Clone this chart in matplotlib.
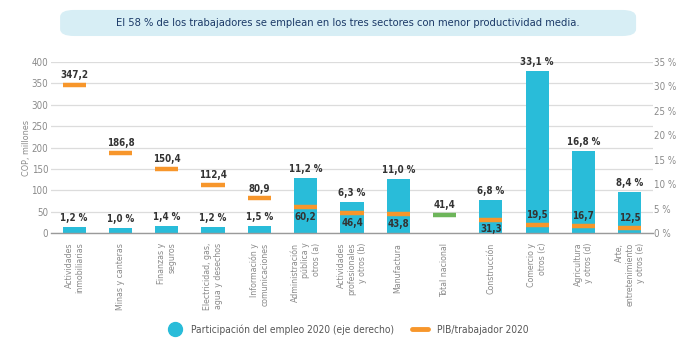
import numpy as np
import matplotlib
matplotlib.use("Agg")
from matplotlib import pyplot as plt
from matplotlib.lines import Line2D
from matplotlib.patches import FancyBboxPatch

sectors = [
    "Actividades\ninmobiliarias", "Minas y canteras", "Finanzas y\nseguros",
    "Electricidad, gas,\nagua y desechos", "Información y\ncomunicaciones",
    "Administración\npública y\notros (a)", "Actividades\nprofesionales\ny otros (b)",
    "Manufactura", "Total nacional", "Construcción", "Comercio y\notros (c)",
    "Agricultura\ny otros (d)", "Arte,\nentretenimiento\ny otros (e)",
]
empleo = [1.2, 1.0, 1.4, 1.2, 1.5, 11.2, 6.3, 11.0, None, 6.8, 33.1, 16.8, 8.4]
pib = [347.2, 186.8, 150.4, 112.4, 80.9, 60.2, 46.4, 43.8, 41.4, 31.3, 19.5, 16.7, 12.5]
# where the PIB value is written relative to its marker
pib_label_pos = ["above"] * 5 + ["below"] * 3 + ["above", "below"] + ["above"] * 3
left_ticks = [0, 50, 100, 150, 200, 250, 300, 350, 400]
right_ticks = [0, 5, 10, 15, 20, 25, 30, 35]

CYAN = "#29bcd9"
ORANGE = "#f7962b"
GREEN = "#6db55a"
GRAY = "#8a8a8a"
DARK = "#333333"

plt.rcParams["font.family"] = "DejaVu Sans"
plt.rcParams["font.stretch"] = "condensed"

fig = plt.figure(figsize=(6.99, 3.43), dpi=100)
ax = fig.add_axes([0.073, 0.3207, 0.861, 0.4985])
ax2 = ax.twinx()

x = np.arange(len(sectors))
w = 0.5

for i, v in enumerate(empleo):
    if v is None:
        continue
    ax2.bar(x[i], v, width=w, color=CYAN, zorder=2)
    ax2.annotate(f"{v:.1f} %".replace(".", ","), (x[i], v), xytext=(0, 3),
                 textcoords="offset points", ha="center", va="bottom",
                 fontsize=7, fontweight="bold", color=DARK)

# PIB markers live on the left scale but are drawn over the bars
for i, v in enumerate(pib):
    col = GREEN if empleo[i] is None else ORANGE
    ax2.hlines(v, x[i] - w / 2, x[i] + w / 2, color=col, lw=3.2, zorder=3,
               transform=ax.transData)
    txt = f"{v:.1f}".replace(".", ",")
    if pib_label_pos[i] == "above":
        ax2.annotate(txt, (x[i], v), xycoords=ax.transData, xytext=(0, 3.5),
                     textcoords="offset points", ha="center", va="bottom",
                     fontsize=7, fontweight="bold", color=DARK, zorder=4)
    else:
        ax2.annotate(txt, (x[i], v), xycoords=ax.transData, xytext=(0, -3.5),
                     textcoords="offset points", ha="center", va="top",
                     fontsize=7, fontweight="bold", color=DARK, zorder=4)

ax.set_xlim(-0.5, len(sectors) - 0.5)
ax.set_ylim(0, 400)
ax2.set_ylim(0, 35)
ax.set_yticks(left_ticks)
ax2.set_yticks(right_ticks)
ax2.set_yticklabels([f"{t} %" for t in right_ticks])
ax.grid(axis="y", color="#dcdcdc", lw=0.9)
ax.set_axisbelow(True)

ax.set_xticks(x)
ax.set_xticklabels(sectors, rotation=90, multialignment="right", fontsize=6.3, color=GRAY)
ax.tick_params(axis="x", length=0, pad=7)
ax.tick_params(axis="y", length=0, labelsize=7, labelcolor=GRAY, pad=2)
ax2.tick_params(axis="y", length=0, labelsize=7, labelcolor=GRAY, pad=1)
ax.set_ylabel("COP, millones", fontsize=6.5, color=GRAY, labelpad=0.5)

for a in (ax, ax2):
    for s in a.spines.values():
        s.set_visible(False)
ax2.spines["bottom"].set_visible(True)
ax2.spines["bottom"].set_color("#9a9a9a")
ax2.spines["bottom"].set_linewidth(1.0)

# heading box
box = FancyBboxPatch((0.086, 0.895), 0.824, 0.076, transform=fig.transFigure,
                     boxstyle="round,pad=0,rounding_size=0.02", fc="#d7eef5", ec="none")
fig.patches.append(box)
fig.text(0.498, 0.933, "El 58 % de los trabajadores se emplean en los tres sectores con menor productividad media.",
         ha="center", va="center", fontsize=8, color="#1b3a68")

handles = [
    Line2D([], [], marker="o", ls="none", markersize=10, color=CYAN),
    Line2D([], [], color=ORANGE, lw=3.5, solid_capstyle="round"),
]
fig.legend(handles, ["Participación del empleo 2020 (eje derecho)", "PIB/trabajador 2020"],
           loc="center", bbox_to_anchor=(0.497, 0.04), ncol=2, frameon=False,
           fontsize=7.3, labelcolor="#555555", columnspacing=1.8, handlelength=1.6,
           handletextpad=0.8)

fig.savefig("out.png", dpi=100)
